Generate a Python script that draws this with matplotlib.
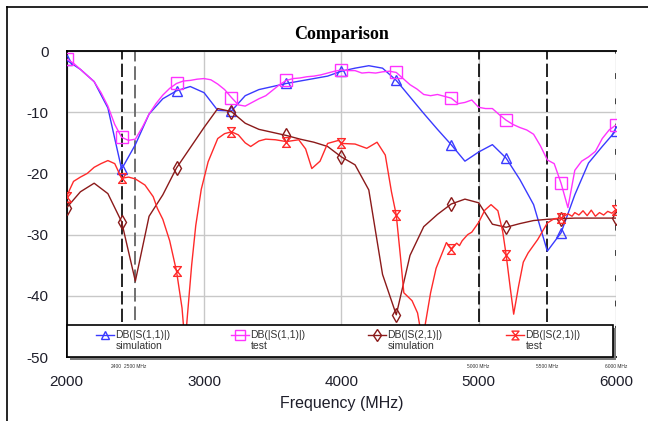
"""Comparison of simulated and measured S-parameters (S11 / S21) in dB."""

import matplotlib

matplotlib.use("Agg")
import matplotlib.pyplot as plt  # noqa: E402
import numpy as np  # noqa: E402
from matplotlib.lines import Line2D  # noqa: E402
from matplotlib.patches import Rectangle  # noqa: E402
from matplotlib.path import Path  # noqa: E402

# --- data -------------------------------------------------------------------
# simulation, sampled every 100 MHz
sim_freq = list(range(2000, 6001, 100))
s11_sim = [
    -1.5, -3.0, -5.0, -9.3, -19.3, -15.3, -10.3, -7.8, -6.5, -5.8,
    -6.8, -9.7, -9.8, -7.3, -6.3, -5.8, -5.3, -4.9, -4.5, -4.1,
    -3.3, -2.8, -2.4, -2.8, -4.8, -7.5, -10.2, -12.8, -15.3, -18.0,
    -16.5, -15.3, -17.5, -21.0, -25.1, -32.7, -29.7, -23.5, -18.3, -15.6,
    -13.0,
]
s21_sim = [
    -25.6, -23.0, -21.6, -23.3, -27.9, -37.6, -27.0, -23.5, -19.1, -15.8,
    -12.5, -9.4, -9.9, -11.8, -12.8, -13.3, -13.8, -14.4, -14.9, -15.6,
    -17.3, -18.6, -22.7, -36.5, -43.1, -33.4, -28.7, -26.7, -25.0, -24.2,
    -24.8, -28.3, -28.8, -28.2, -27.7, -27.5, -27.4, -27.3, -27.3, -27.3,
    -27.3,
]

# measurement
s11_test_freq = list(range(2000, 6001, 50))
s11_test = [
    -1.3, -2.0, -3.0, -4.0, -5.0, -6.8, -9.0, -12.0, -14.1, -14.6,
    -14.4, -12.5, -10.3, -8.6, -7.2, -6.1, -5.3, -4.9, -4.8, -4.6,
    -4.5, -4.7, -5.4, -6.3, -7.6, -8.8, -9.0, -8.4, -7.8, -7.3,
    -6.4, -5.5, -4.8, -4.5, -4.4, -4.2, -4.1, -3.9, -3.6, -3.3,
    -3.1, -3.2, -3.2, -3.6, -3.5, -3.6, -3.4, -3.3, -3.5, -4.5,
    -5.5, -6.2, -7.1, -7.3, -7.1, -7.4, -7.7, -8.6, -8.4, -8.0,
    -9.2, -9.4, -9.4, -10.4, -11.3, -12.0, -12.5, -12.9, -13.6, -15.5,
    -17.8, -18.4, -21.6, -25.6, -19.5, -18.0, -17.3, -16.4, -14.3, -12.9,
    -12.1,
]
s21_test_freq = [
    2000, 2025, 2050, 2100, 2150, 2200, 2250, 2300, 2350, 2400,
    2450, 2500, 2570, 2630, 2660, 2700, 2750, 2800, 2840, 2862,
    2880, 2910, 2940, 2980, 3030, 3100, 3150, 3200, 3250, 3300,
    3340, 3400, 3450, 3520, 3600, 3690, 3740, 3785, 3845, 3900,
    3980, 4000, 4100, 4185, 4260, 4320, 4365, 4400, 4430, 4455,
    4515, 4555, 4580, 4610, 4650, 4690, 4765, 4800, 4840, 4860,
    4880, 4920, 4950, 5000, 5045, 5090, 5140, 5175, 5200, 5230,
    5255, 5290, 5325, 5360, 5430, 5500, 5550, 5600, 5650, 5680,
    5700, 5730, 5760, 5790, 5820, 5850, 5880, 5910, 5940, 5970,
    6000,
]
s21_test = [
    -23.8, -22.5, -21.3, -20.6, -20.0, -19.0, -18.4, -17.9, -18.4, -20.8,
    -20.6, -20.9, -21.9, -23.8, -25.7, -27.5, -31.0, -36.0, -42.0, -48.0,
    -43.0, -35.0, -28.5, -22.6, -18.1, -14.3, -13.5, -13.2, -13.7, -15.0,
    -15.6, -14.7, -14.4, -14.5, -14.8, -14.5, -16.0, -19.2, -18.0, -15.1,
    -14.6, -15.1, -15.2, -15.9, -14.9, -17.0, -23.0, -26.8, -33.5, -39.5,
    -40.8, -42.8, -46.0, -44.8, -39.5, -35.5, -31.3, -32.3, -31.4, -31.8,
    -31.0, -30.0, -29.6, -28.0, -26.0, -25.1, -26.1, -29.5, -33.3, -38.7,
    -43.0, -38.5, -34.5, -33.0, -30.8, -28.1, -27.4, -27.3, -26.6, -27.0,
    -26.4, -26.8, -26.1, -26.9, -26.0, -27.0, -26.4, -26.8, -26.2, -26.5,
    -25.9,
]

marker_freq = [2000, 2400, 2800, 3200, 3600, 4000, 4400, 4800, 5200, 5600, 6000]
cursor_freq = [2400, 2500, 5000, 5500, 6000]
cursor_labels = ["2400", "2500 MHz", "5000 MHz", "5500 MHz", "6000 MHz"]

x_ticks = [2000, 3000, 4000, 5000, 6000]
y_ticks = [0, -10, -20, -30, -40, -50]

# --- style ------------------------------------------------------------------
BLUE = "#3a3aff"
PINK = "#ff33ff"
DARKRED = "#8b1a1a"
RED = "#ff2a2a"
TEXT = "#1e1e2a"
GRID = "#c8c8c8"

HOURGLASS = Path(
    [(-0.8, 1), (0.8, 1), (-0.8, -1), (0.8, -1), (-0.8, 1)],
    [Path.MOVETO, Path.LINETO, Path.LINETO, Path.LINETO, Path.CLOSEPOLY],
)

SERIES = [
    # freq, values, colour, marker, markersize, label
    (sim_freq, s11_sim, BLUE, "^", 7, "DB(|S(1,1)|)\nsimulation"),
    (s11_test_freq, s11_test, PINK, "s", 8.5, "DB(|S(1,1)|)\ntest"),
    (sim_freq, s21_sim, DARKRED, "d", 7, "DB(|S(2,1)|)\nsimulation"),
    (s21_test_freq, s21_test, RED, HOURGLASS, 7, "DB(|S(2,1)|)\ntest"),
]

plt.rcParams["font.family"] = ["Liberation Sans", "DejaVu Sans"]
plt.rcParams["axes.unicode_minus"] = False

fig = plt.figure(figsize=(6.48, 4.21), dpi=100)
fig.patch.set_facecolor("white")
ax = fig.add_axes([0.1029, 0.152, 0.8477, 0.7268])

# outer frame (only left and top edges are visible in the original)
fig.add_artist(Line2D([7 / 648, 7 / 648], [0, 1 - 7 / 421], color="black", lw=1.2))
fig.add_artist(Line2D([7 / 648, 1], [1 - 7 / 421, 1 - 7 / 421], color="black", lw=1.2))

for freq, vals, color, marker, ms, _label in SERIES:
    idx = [i for i, f in enumerate(freq) if f in marker_freq]
    ax.plot(
        freq, vals, color=color, lw=1.0, marker=marker, markersize=ms,
        markevery=idx, fillstyle="none", markeredgewidth=1.0, zorder=3,
    )

# cursor lines
for f in cursor_freq:
    if f == 2500:
        ax.axvline(f, color="#707070", lw=1.4, ls=(0, (7, 2.5)), zorder=2)
    elif f == 6000:
        ax.axvline(f, color="#404040", lw=1.4, ls=(0, (3, 10)), zorder=2)
    else:
        ax.axvline(f, color="black", lw=1.2, ls=(0, (8, 2.5)), zorder=2)

for f, lab in zip(cursor_freq, cursor_labels):
    ax.text(f, -51.5, lab, fontsize=3.5, ha="center" if f != 2400 else "right",
            va="center", color="#333333", clip_on=False)

ax.set_xlim(2000, 6000)
ax.set_ylim(-50, 0)
ax.set_xticks(x_ticks)
ax.set_yticks(y_ticks)
ax.tick_params(length=0, pad=13, labelsize=11, colors=TEXT)
ax.grid(True, color=GRID, lw=1.0, zorder=1)
ax.set_axisbelow(True)
for side, spine in ax.spines.items():
    spine.set_color("black")
    spine.set_linewidth(1.3)
ax.spines["right"].set_visible(False)

ax.set_title("Comparison", fontsize=13, fontweight="bold",
             family="Liberation Serif", pad=9, color="black")
ax.set_xlabel("Frequency (MHz)", fontsize=11.5, color=TEXT, labelpad=5)

# legend box drawn over the bottom of the plot
box_h = 0.106
shadow = Rectangle((0.006, -0.01), 0.9945, box_h, transform=ax.transAxes,
                   facecolor="#7a7a7a", edgecolor="none", zorder=5, clip_on=False)
box = Rectangle((0, 0), 0.9945, box_h, transform=ax.transAxes,
                facecolor="white", edgecolor="black", lw=1.2, zorder=6, clip_on=False)
ax.add_patch(shadow)
ax.add_patch(box)

legend_x = [0.0697, 0.3155, 0.5649, 0.8162]
half = 0.016
for xc, (_f, _v, color, marker, ms, label) in zip(legend_x, SERIES):
    ax.plot([xc - half, xc, xc + half], [0.072, 0.072, 0.072],
            transform=ax.transAxes, color=color, lw=1.0, marker=marker,
            markersize=ms * 0.9, markevery=[1], fillstyle="none",
            zorder=7, clip_on=False)
    ax.text(xc + half + 0.003, 0.054, label, transform=ax.transAxes,
            fontsize=7.5, color="#333333", va="center", ha="left",
            linespacing=1.15, zorder=7)

fig.savefig("out.png", dpi=100, facecolor=fig.get_facecolor())
